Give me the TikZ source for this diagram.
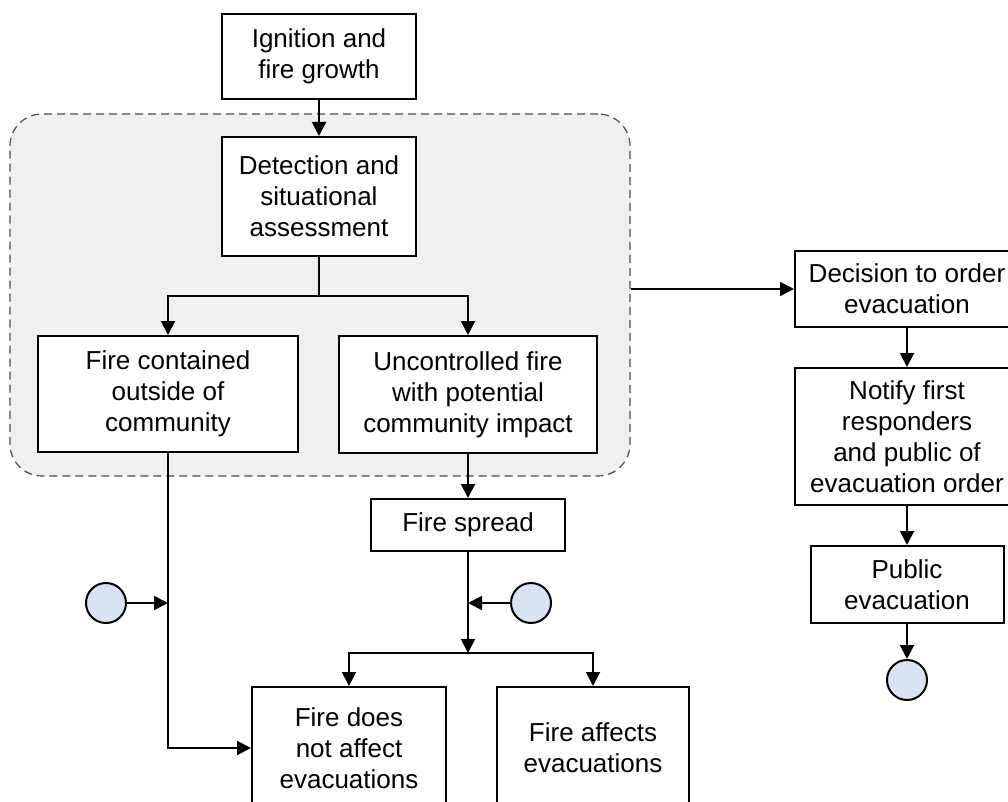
\documentclass[tikz,border=0pt]{standalone}
\usepackage{fontspec}
\setmainfont{Liberation Sans}
\usetikzlibrary{arrows.meta}
\definecolor{grpfill}{HTML}{F0F0F0}
\definecolor{grpline}{HTML}{4D4D4D}
\definecolor{circfill}{HTML}{DAE3F3}
\begin{document}
\begin{tikzpicture}[x=1pt,y=-1pt,
  box/.style={draw, line width=2pt, fill=white, inner sep=0pt, align=center, font=\fontsize{26}{31}\selectfont},
  arr/.style={line width=2pt, -{Triangle[length=14pt,width=14pt]}},
  conn/.style={line width=2pt},
  circ/.style={circle, draw, line width=2pt, fill=circfill, minimum size=40pt, inner sep=0pt},
  group/.style={draw=grpline, fill=grpfill, dash pattern=on 8pt off 5pt, line width=1.2pt, rounded corners=32pt}]
\useasboundingbox (0,0) rectangle (1008,802);
\clip (0,0) rectangle (1008,802);
\node[box, minimum width=194pt, minimum height=85pt] (ign) at (319,56.5) {Ignition and\\fire growth};
\node[group, minimum width=620pt, minimum height=362pt] (grp) at (320,295) {};
\node[box, minimum width=194pt, minimum height=119pt] (det) at (319,196.5) {Detection and\\situational\\assessment};
\node[box, minimum width=260pt, minimum height=116pt] (cont) at (168,394) {Fire contained\\outside of\\community};
\node[box, minimum width=258pt, minimum height=117pt] (unc) at (468,394.5) {Uncontrolled fire\\with potential\\community impact};
\node[box, minimum width=194pt, minimum height=52pt] (spr) at (468,525) {Fire spread};
\node[box, minimum width=194pt, minimum height=122pt] (fdn) at (349,748) {Fire does\\not affect\\evacuations};
\node[box, minimum width=192pt, minimum height=122pt] (fa) at (593,748) {Fire affects\\evacuations};
\node[box, minimum width=224pt, minimum height=76pt] (dec) at (907,289) {Decision to order\\evacuation};
\node[box, minimum width=224pt, minimum height=137pt] (ntf) at (907,436.5) {Notify first\\responders\\and public of\\evacuation order};
\node[box, minimum width=193pt, minimum height=77pt] (pub) at (907,584.5) {Public\\evacuation};
\node[circ] (c1) at (106,603) {};
\node[circ] (c2) at (531,603) {};
\node[circ] (c3) at (907,680) {};
\coordinate (s1) at (319,296);
\coordinate (s2) at (468,653);
\draw[arr] (ign) -- (det);
\draw[conn] (det.south) -- (s1);
\draw[arr] (s1) -| (cont.north);
\draw[arr] (s1) -| (unc.north);
\draw[arr] (grp.east |- dec.west) -- (dec.west);
\draw[arr] (unc) -- (spr);
\draw[arr] (spr.south) -- (s2);
\draw[arr] (s2) -| (fdn.north);
\draw[arr] (s2) -| (fa.north);
\draw[arr] (c2) -- (c2 -| spr.south);
\draw[arr] (c1) -- (c1 -| cont.south);
\draw[arr] (cont.south) |- (fdn.west);
\draw[arr] (dec) -- (ntf);
\draw[arr] (ntf) -- (pub);
\draw[arr] (pub) -- (c3);
\end{tikzpicture}
\end{document}
